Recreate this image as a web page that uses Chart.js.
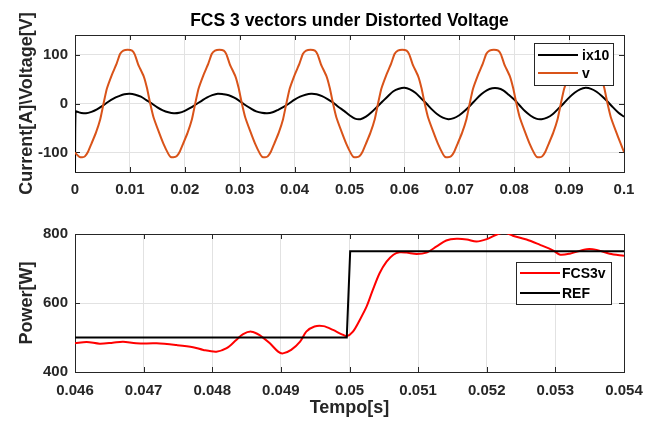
<!DOCTYPE html>
<html><head><meta charset="utf-8">
<script src="https://cdn.jsdelivr.net/npm/chart.js@4.4.1/dist/chart.umd.min.js"></script>
<style>
html,body{margin:0;padding:0;background:#fff;}
#wrap{position:relative;width:659px;height:422px;background:#fff;}
canvas{position:absolute;left:0;}
</style></head><body>
<div id="wrap">
<canvas id="c1" width="659" height="200" style="top:0px"></canvas>
<canvas id="c2" width="659" height="222" style="top:200px"></canvas>
</div>
<script>
// ---------- DATA ----------
const topXTicks = [0, 0.01, 0.02, 0.03, 0.04, 0.05, 0.06, 0.07, 0.08, 0.09, 0.1];
const topYTicks = [-100, 0, 100];
const botXTicks = [0.046, 0.047, 0.048, 0.049, 0.05, 0.051, 0.052, 0.053, 0.054];
const botYTicks = [400, 600, 800];

// current x10 (ix10)
const iTime = [0, 0.0001, 0.001, 0.002, 0.003, 0.004, 0.005, 0.006, 0.007, 0.008, 0.009,
  0.010, 0.011, 0.012, 0.013, 0.014, 0.015, 0.016, 0.017, 0.018, 0.019,
  0.020, 0.021, 0.022, 0.023, 0.024, 0.025, 0.026, 0.027, 0.028, 0.029,
  0.030, 0.031, 0.032, 0.033, 0.034, 0.035, 0.036, 0.037, 0.038, 0.039,
  0.040, 0.041, 0.042, 0.043, 0.044, 0.045, 0.046, 0.047, 0.048, 0.049,
  0.050, 0.051, 0.052, 0.053, 0.054, 0.055, 0.056, 0.057, 0.058, 0.059,
  0.060, 0.061, 0.062, 0.063, 0.064, 0.065, 0.066, 0.067, 0.068, 0.069,
  0.070, 0.071, 0.072, 0.073, 0.074, 0.075, 0.076, 0.077, 0.078, 0.079,
  0.080, 0.081, 0.082, 0.083, 0.084, 0.085, 0.086, 0.087, 0.088, 0.089,
  0.090, 0.091, 0.092, 0.093, 0.094, 0.095, 0.096, 0.097, 0.098, 0.099, 0.100];
const iValues = [-140, -17, -19, -20, -17, -12, -5, 3, 10, 15, 19,
  20, 18, 14, 7, 0, -8, -14, -18, -20, -19,
  -15, -9, -2, 5, 12, 17, 20, 19, 17, 12,
  5, -3, -10, -16, -19, -20, -18, -13, -7, 0,
  8, 14, 18, 20, 19, 15, 9, 2, -7, -15,
  -24, -31, -32, -27, -18, -7, 4, 15, 25, 30,
  32, 29, 22, 11, 0, -12, -22, -29, -32, -30,
  -24, -15, -4, 8, 19, 27, 31, 31, 27, 18,
  8, -4, -16, -25, -31, -32, -29, -22, -11, 0,
  12, 22, 29, 32, 30, 24, 15, 4, -8, -19, -27];

// voltage (v)
const vTime = [0, 0.0003, 0.0008, 0.0013,
  0.0018, 0.0024, 0.0030, 0.0038, 0.0046, 0.0052, 0.0058, 0.0067, 0.0076, 0.0082, 0.0088, 0.0096,
  0.0104, 0.0109, 0.0115, 0.0125, 0.0131, 0.0137, 0.0143, 0.0152, 0.0161, 0.0170, 0.0174, 0.0179,
  0.0185, 0.0191, 0.0197, 0.0205, 0.0213, 0.0219, 0.0225, 0.0234, 0.0243, 0.0249, 0.0255, 0.0263,
  0.0271, 0.0276, 0.0282, 0.0292, 0.0298, 0.0304, 0.0310, 0.0319, 0.0328, 0.0337, 0.0341, 0.0346,
  0.0351, 0.0357, 0.0363, 0.0371, 0.0379, 0.0385, 0.0391, 0.0400, 0.0409, 0.0415, 0.0421, 0.0429,
  0.0437, 0.0442, 0.0448, 0.0458, 0.0464, 0.0470, 0.0476, 0.0485, 0.0494, 0.0503, 0.0507, 0.0512,
  0.0518, 0.0524, 0.0530, 0.0538, 0.0546, 0.0552, 0.0558, 0.0567, 0.0576, 0.0582, 0.0588, 0.0596,
  0.0604, 0.0609, 0.0615, 0.0625, 0.0631, 0.0637, 0.0643, 0.0652, 0.0661, 0.0670, 0.0674, 0.0679,
  0.0685, 0.0691, 0.0697, 0.0705, 0.0713, 0.0719, 0.0725, 0.0734, 0.0743, 0.0749, 0.0755, 0.0763,
  0.0771, 0.0776, 0.0782, 0.0792, 0.0798, 0.0804, 0.0810, 0.0819, 0.0828, 0.0837, 0.0841, 0.0846,
  0.0851, 0.0857, 0.0863, 0.0871, 0.0879, 0.0885, 0.0891, 0.0900, 0.0909, 0.0915, 0.0921, 0.0929,
  0.0937, 0.0942, 0.0948, 0.0958, 0.0964, 0.0970, 0.0976, 0.0985, 0.0994, 0.1000];
const vValues = [-100, -104, -109, -110,
  -108, -98, -82, -60, -32, 0, 30, 58, 82, 101, 108, 110,
  108, 100, 80, 56, 32, 0, -28, -56, -82, -103, -109, -110,
  -108, -98, -82, -60, -32, 0, 30, 58, 82, 101, 108, 110,
  108, 100, 80, 56, 32, 0, -28, -56, -82, -103, -109, -110,
  -108, -98, -82, -60, -32, 0, 30, 58, 82, 101, 108, 110,
  108, 100, 80, 56, 32, 0, -28, -56, -82, -103, -109, -110,
  -108, -98, -82, -60, -32, 0, 30, 58, 82, 101, 108, 110,
  108, 100, 80, 56, 32, 0, -28, -56, -82, -103, -109, -110,
  -108, -98, -82, -60, -32, 0, 30, 58, 82, 101, 108, 110,
  108, 100, 80, 56, 32, 0, -28, -56, -82, -103, -109, -110,
  -108, -98, -82, -60, -32, 0, 30, 58, 82, 101, 108, 110,
  108, 100, 80, 56, 32, 0, -28, -56, -82, -99];

// power (FCS3v)
const pTime = [0.04600, 0.04617, 0.04636, 0.04655, 0.04670, 0.04689, 0.04719, 0.04748, 0.04772, 0.04787,
  0.04806, 0.04821, 0.04835, 0.04845, 0.04857, 0.04869, 0.04884, 0.04896, 0.04903, 0.04915,
  0.04928, 0.04937, 0.04949, 0.04962, 0.04976, 0.04988, 0.04996, 0.05005, 0.05015, 0.05025,
  0.05034, 0.05044, 0.05054, 0.05064, 0.05073, 0.05083, 0.05098, 0.05112, 0.05127, 0.05141,
  0.05156, 0.05171, 0.05185, 0.05200, 0.05214, 0.05226, 0.05238, 0.05258, 0.05277, 0.05297,
  0.05307, 0.05321, 0.05346, 0.05360, 0.05379, 0.05400];
const pValues = [483, 487, 482, 485, 488, 483, 483, 478, 472, 464,
  459, 469, 493, 510, 517, 507, 483, 459, 454, 464,
  488, 517, 532, 533, 522, 510, 504, 517, 551, 590,
  638, 687, 720, 740, 747, 746, 742, 746, 764, 781,
  786, 784, 778, 785, 798, 804, 795, 784, 769, 752,
  740, 743, 756, 754, 743, 737];

// reference (REF)
const refTime = [0.046, 0.04996, 0.05001, 0.054];
const refValues = [500, 500, 750, 750];

// ---------- STYLE / HELPERS ----------
const FONT = "'Liberation Sans', Arial, Helvetica, sans-serif";
const TXT = '#262626';
const GRID = '#e2e2e2';
const pts = (xs, ys) => xs.map((x, k) => ({x: x, y: ys[k]}));
const fmt = v => String(+(+v).toFixed(4));
const setTicks = arr => (s => { s.ticks = arr.map(v => ({value: v})); });

const framePlugin = {
  id: 'frame',
  beforeDatasetsDraw(chart) {
    const {ctx, chartArea: a, scales} = chart;
    ctx.save();
    ctx.strokeStyle = TXT; ctx.lineWidth = 1;
    const tl = 5;
    ctx.beginPath();
    scales.x.ticks.forEach(t => {
      const px = Math.round(scales.x.getPixelForValue(t.value)) + 0.5;
      ctx.moveTo(px, a.bottom); ctx.lineTo(px, a.bottom - tl);
      ctx.moveTo(px, a.top); ctx.lineTo(px, a.top + tl);
    });
    scales.y.ticks.forEach(t => {
      const py = Math.round(scales.y.getPixelForValue(t.value)) + 0.5;
      ctx.moveTo(a.left, py); ctx.lineTo(a.left + tl, py);
      ctx.moveTo(a.right, py); ctx.lineTo(a.right - tl, py);
    });
    ctx.stroke();
    ctx.strokeRect(Math.round(a.left) + 0.5, Math.round(a.top) + 0.5,
      Math.round(a.right) - Math.round(a.left), Math.round(a.bottom) - Math.round(a.top));
    ctx.restore();
  }
};

const boxLegend = {
  id: 'boxLegend',
  afterDraw(chart, args, o) {
    const ctx = chart.ctx;
    ctx.save();
    ctx.fillStyle = '#fff';
    ctx.fillRect(o.x, o.y, o.w, o.h);
    ctx.strokeStyle = TXT; ctx.lineWidth = 1;
    ctx.strokeRect(o.x + 0.5, o.y + 0.5, o.w, o.h);
    o.order.forEach((di, k) => {
      const ds = chart.data.datasets[di];
      const yy = o.y + o.rows[k];
      ctx.strokeStyle = ds.borderColor; ctx.lineWidth = 2;
      ctx.beginPath(); ctx.moveTo(o.x + o.l0, yy); ctx.lineTo(o.x + o.l1, yy); ctx.stroke();
      ctx.fillStyle = '#000';
      ctx.font = 'bold 14px ' + FONT;
      ctx.textBaseline = 'middle'; ctx.textAlign = 'left';
      ctx.fillText(ds.label, o.x + o.tx, yy + 1);
    });
    ctx.restore();
  }
};

const tickFont = {family: FONT, size: 15, weight: 'bold'};
const axisTitleFont = {family: FONT, size: 18, weight: 'bold'};

// ---------- TOP CHART ----------
new Chart(document.getElementById('c1'), {
  type: 'line',
  data: {datasets: [
    {label: 'ix10', data: pts(iTime, iValues), borderColor: '#000000', borderWidth: 2,
     pointRadius: 0, tension: 0.3, order: 1},
    {label: 'v', data: pts(vTime, vValues), borderColor: '#D95319', borderWidth: 2,
     pointRadius: 0, tension: 0.15, order: 0}
  ]},
  options: {
    responsive: false, animation: false, devicePixelRatio: 1,
    layout: {padding: {left: 0, right: 35, top: 11, bottom: 0}},
    plugins: {
      legend: {display: false}, tooltip: {enabled: false},
      title: {display: true, text: 'FCS 3 vectors under Distorted Voltage', fullSize: false,
        color: '#000', font: {family: FONT, size: 17.5, weight: 'bold'}, padding: {top: 0, bottom: 3}},
      boxLegend: {x: 534, y: 43, w: 79, h: 42, order: [0, 1], rows: [12, 30], l0: 4, l1: 44, tx: 48}
    },
    scales: {
      x: {type: 'linear', min: 0, max: 0.1, afterBuildTicks: setTicks(topXTicks),
        afterFit: s => { s.height = 28; },
        ticks: {callback: fmt, font: tickFont, color: TXT, padding: 9, maxRotation: 0, autoSkip: false},
        grid: {color: GRID, drawTicks: false}, border: {display: false}},
      y: {type: 'linear', min: -140, max: 140, afterBuildTicks: setTicks(topYTicks),
        afterFit: s => { s.width = 75; },
        ticks: {callback: fmt, font: tickFont, color: TXT, padding: 7},
        grid: {color: GRID, drawTicks: false}, border: {display: false},
        title: {display: true, text: 'Current[A]\\Voltage[V]', color: TXT, font: axisTitleFont,
          padding: {top: 16, bottom: 0}}}
    }
  },
  plugins: [framePlugin, boxLegend]
});

// ---------- BOTTOM CHART ----------
new Chart(document.getElementById('c2'), {
  type: 'line',
  data: {datasets: [
    {label: 'FCS3v', data: pts(pTime, pValues), borderColor: '#FF0000', borderWidth: 2,
     pointRadius: 0, tension: 0.3, order: 1},
    {label: 'REF', data: pts(refTime, refValues), borderColor: '#000000', borderWidth: 2,
     pointRadius: 0, tension: 0, order: 0}
  ]},
  options: {
    responsive: false, animation: false, devicePixelRatio: 1,
    layout: {padding: {left: 0, right: 35, top: 34, bottom: 0}},
    plugins: {
      legend: {display: false}, tooltip: {enabled: false},
      boxLegend: {x: 516, y: 62, w: 95, h: 42, order: [0, 1], rows: [11, 31], l0: 4, l1: 44, tx: 46}
    },
    scales: {
      x: {type: 'linear', min: 0.046, max: 0.054, afterBuildTicks: setTicks(botXTicks),
        afterFit: s => { s.height = 50; },
        ticks: {callback: fmt, font: tickFont, color: TXT, padding: 10, maxRotation: 0, autoSkip: false},
        grid: {color: GRID, drawTicks: false}, border: {display: false},
        title: {display: true, text: 'Tempo[s]', color: TXT, font: axisTitleFont, padding: {top: 0, bottom: 3}}},
      y: {type: 'linear', min: 400, max: 800, afterBuildTicks: setTicks(botYTicks),
        afterFit: s => { s.width = 75; },
        ticks: {callback: fmt, font: tickFont, color: TXT, padding: 7},
        grid: {color: GRID, drawTicks: false}, border: {display: false},
        title: {display: true, text: 'Power[W]', color: TXT, font: axisTitleFont,
          padding: {top: 16, bottom: 0}}}
    }
  },
  plugins: [framePlugin, boxLegend]
});
</script>
</body></html>
